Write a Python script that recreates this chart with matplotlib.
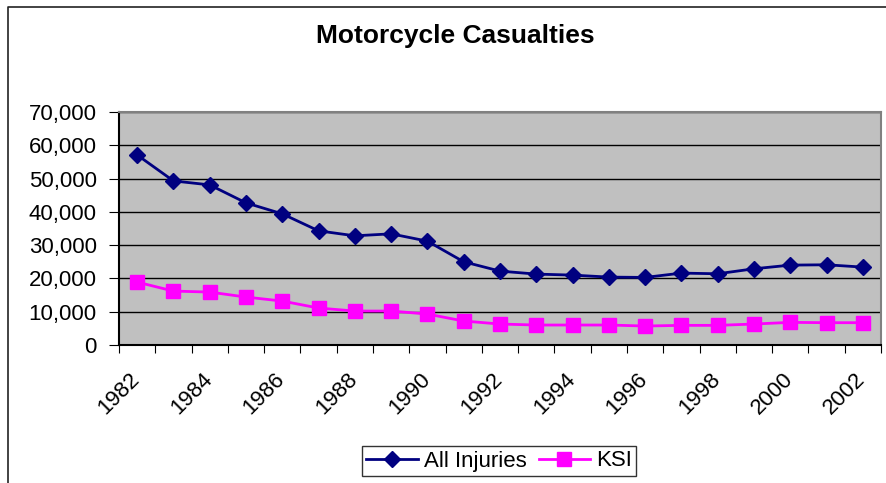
import matplotlib
matplotlib.use("Agg")
import matplotlib.pyplot as plt
import matplotlib.transforms as mtransforms
from matplotlib.lines import Line2D
from matplotlib.ticker import FuncFormatter, FixedLocator

years = list(range(1982, 2003))
all_injuries = [57100, 49300, 48100, 42700, 39400, 34300, 32800, 33400, 31200, 25000,
                22200, 21300, 21000, 20400, 20300, 21600, 21400, 22900, 24000, 24100, 23400]
ksi = [18900, 16200, 15900, 14400, 13200, 11100, 10200, 10200, 9300, 7200,
       6300, 6000, 6000, 6000, 5700, 5900, 5900, 6300, 6800, 6700, 6700]

plt.rcParams["font.family"] = ["Liberation Sans", "DejaVu Sans"]

W, H = 887, 483
fig = plt.figure(figsize=(W / 100, H / 100), dpi=100)
ax = fig.add_axes([119 / W, 1 - 345 / H, 762 / W, 233 / H])

x = list(range(len(years)))
ax.plot(x, all_injuries, color="#000080", lw=2, marker="D", ms=8, label="All Injuries")
ax.plot(x, ksi, color="#FF00FF", lw=2, marker="s", ms=10, label="KSI")

ax.set_facecolor("#C0C0C0")
ax.set_xlim(-0.5, len(years) - 0.5)
ax.set_ylim(0, 70000)
ax.set_yticks(range(0, 70001, 10000))
ax.yaxis.set_major_formatter(FuncFormatter(lambda v, p: f"{int(v):,}"))
ax.grid(axis="y", color="black", lw=1)
ax.set_axisbelow(True)

ax.xaxis.set_major_locator(FixedLocator([i - 0.5 for i in range(len(years) + 1)]))
ax.xaxis.set_major_formatter(FuncFormatter(lambda v, p: ""))
ax.xaxis.set_minor_locator(FixedLocator(x[::2]))
ax.set_xticklabels([str(y) for y in years[::2]], minor=True, rotation=45,
                   ha="right", va="top", rotation_mode="anchor")
ax.tick_params(axis="x", which="minor", length=0, labelsize=16, pad=17)
ax.tick_params(axis="x", which="major", length=6, color="black")
ax.tick_params(axis="y", length=7, labelsize=16, color="black", pad=9)
shift = mtransforms.ScaledTranslation(-8 / 100, 0, fig.dpi_scale_trans)
for lab in ax.get_xticklabels(minor=True):
    lab.set_transform(lab.get_transform() + shift)

for s in ("top", "right"):
    ax.spines[s].set_color("#808080")
    ax.spines[s].set_linewidth(1.5)
for s in ("left", "bottom"):
    ax.spines[s].set_color("black")
    ax.spines[s].set_linewidth(1.5)

fig.text(455 / W, 1 - 43 / H, "Motorcycle Casualties", ha="center", va="baseline",
         fontsize=19, fontweight="bold")

leg = fig.legend(loc="center", bbox_to_anchor=(499 / W, 1 - 461 / H), ncol=2, fontsize=16,
                 frameon=True, fancybox=False, edgecolor="black", handlelength=2.3,
                 handletextpad=0.27, columnspacing=0.55, borderpad=0.2, borderaxespad=0)
leg.get_frame().set_linewidth(1)

fig.lines.append(Line2D([8.5 / W, 8.5 / W, 1], [0, 1 - 6.5 / H, 1 - 6.5 / H],
                        transform=fig.transFigure, color="#222222", lw=1.2))

fig.savefig("out.png", dpi=100)
